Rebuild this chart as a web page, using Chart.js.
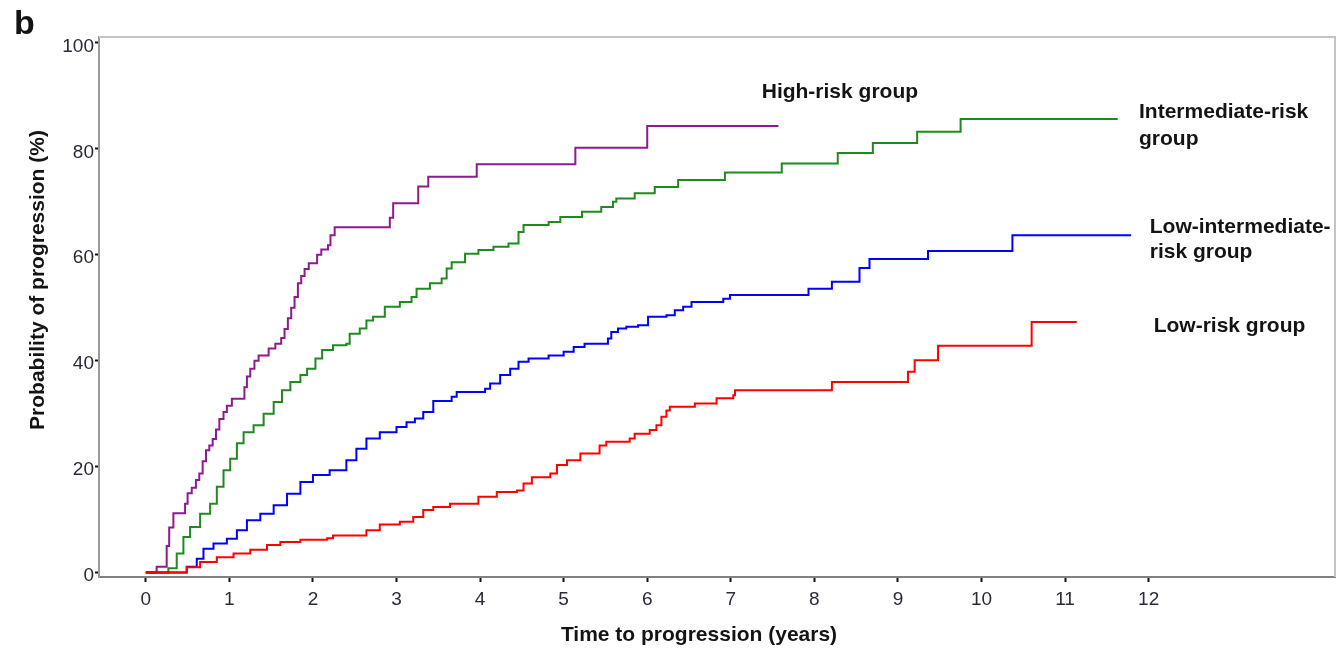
<!DOCTYPE html>
<html>
<head>
<meta charset="utf-8">
<script src="https://cdn.jsdelivr.net/npm/chart.js@4.4.1/dist/chart.umd.min.js"></script>
<style>
  html, body { margin: 0; padding: 0; background: #fff; }
  #wrap { width: 1337px; height: 648px; }
</style>
</head>
<body>
<div id="wrap"><canvas id="kmChart" width="1337" height="648"></canvas></div>
<script>
// Cumulative probability of progression (%) by risk group
const highTime = [0, 0.13, 0.25, 0.28, 0.33, 0.47, 0.50, 0.55, 0.60, 0.64, 0.68, 0.72, 0.76, 0.80, 0.84, 0.88, 0.93, 0.97, 1.03, 1.18, 1.21, 1.25, 1.30, 1.35, 1.47, 1.55, 1.62, 1.66, 1.70, 1.74, 1.78, 1.82, 1.86, 1.90, 1.95, 2.05, 2.10, 2.18, 2.21, 2.26, 2.92, 2.96, 3.26, 3.38, 3.96, 5.14, 6.00, 7.57];
const highProb = [0, 1.1, 5, 8.5, 11.2, 13, 15, 16, 17.5, 18.7, 21, 23.1, 24, 25.2, 27, 29, 30.3, 31.5, 32.8, 35, 37, 38.5, 40, 41, 42.3, 43.2, 44.3, 46, 48, 50, 52, 54.6, 56, 57.3, 58.4, 60, 61, 61.8, 63.7, 65.2, 67, 69.7, 72.9, 74.7, 77.1, 80.2, 84.3, 84.3];

const interTime = [0, 0.17, 0.27, 0.37, 0.45, 0.53, 0.65, 0.77, 0.85, 0.93, 1.01, 1.09, 1.17, 1.29, 1.41, 1.53, 1.63, 1.73, 1.85, 1.93, 2.03, 2.11, 2.24, 2.40, 2.44, 2.56, 2.64, 2.72, 2.86, 3.04, 3.18, 3.24, 3.40, 3.54, 3.60, 3.66, 3.82, 3.98, 4.16, 4.34, 4.46, 4.52, 4.82, 4.96, 5.22, 5.45, 5.59, 5.63, 5.85, 6.09, 6.37, 6.93, 7.61, 8.28, 8.70, 9.23, 9.75, 11.63];
const interProb = [0, 0, 0.8, 3.6, 6.7, 8.6, 11.1, 13, 16.2, 19.3, 21.5, 24.4, 26.5, 27.8, 30, 32.2, 34.4, 36, 37.3, 38.5, 40.4, 42, 42.9, 43.2, 45.1, 46.1, 47.6, 48.3, 50.2, 51.1, 52, 53.6, 54.6, 55.5, 57.4, 58.6, 60.2, 60.9, 61.5, 62.1, 64.3, 65.6, 66.2, 67.1, 68.1, 69, 70, 70.6, 71.6, 72.8, 74.1, 75.5, 77.2, 79.2, 81.1, 83.2, 85.6, 85.6];

const lowInterTime = [0, 0.33, 0.49, 0.61, 0.69, 0.81, 0.97, 1.09, 1.21, 1.37, 1.53, 1.69, 1.85, 2.00, 2.20, 2.40, 2.52, 2.64, 2.80, 3.00, 3.12, 3.22, 3.32, 3.44, 3.66, 3.72, 4.06, 4.12, 4.24, 4.36, 4.46, 4.58, 4.82, 5.00, 5.12, 5.25, 5.53, 5.57, 5.65, 5.75, 5.89, 6.01, 6.23, 6.33, 6.43, 6.53, 6.91, 6.99, 7.93, 8.21, 8.54, 8.66, 9.36, 10.37, 11.79];
const lowInterProb = [0, 0, 1.1, 2.6, 4.5, 5.5, 6.4, 8, 9.9, 11.1, 12.7, 14.9, 17.1, 18.4, 19.3, 21.2, 23.4, 25.3, 26.5, 27.5, 28.4, 29.1, 30.3, 32.4, 33.2, 34.1, 34.7, 35.7, 37.3, 38.5, 39.8, 40.4, 41, 41.7, 42.6, 43.2, 44.2, 45.4, 46.1, 46.4, 46.7, 48.3, 48.6, 49.5, 50.2, 51.1, 51.7, 52.4, 53.6, 54.9, 57.5, 59.2, 60.7, 63.7, 63.7];

const lowTime = [0, 0.33, 0.49, 0.65, 0.85, 1.05, 1.25, 1.45, 1.61, 1.85, 2.17, 2.24, 2.64, 2.80, 3.04, 3.20, 3.32, 3.44, 3.64, 3.98, 4.20, 4.44, 4.52, 4.62, 4.84, 4.92, 5.04, 5.20, 5.43, 5.51, 5.79, 5.85, 6.03, 6.11, 6.17, 6.23, 6.27, 6.57, 6.83, 7.03, 7.05, 8.21, 9.12, 9.20, 9.48, 10.60, 11.14];
const lowProb = [0, 0, 1, 2, 2.9, 3.6, 4.3, 5.2, 5.8, 6.2, 6.5, 7.0, 8, 9.1, 9.6, 10.5, 11.8, 12.4, 13, 14.3, 15.2, 15.5, 16.8, 18, 18.7, 20.3, 21.2, 22.5, 24, 24.7, 25.3, 26.2, 26.9, 27.8, 29.4, 30.6, 31.3, 31.9, 32.9, 33.5, 34.4, 36, 37.9, 40.1, 42.8, 47.3, 47.3];

const xTickValues = [0, 1, 2, 3, 4, 5, 6, 7, 8, 9, 10, 11, 12];
const yTickValues = [0, 20, 40, 60, 80, 100];

// group labels, anchored at (years, %)
const labelText = ['High-risk group', 'Intermediate-risk', 'group', 'Low-intermediate-', 'risk group', 'Low-risk group'];
const labelTime = [7.37, 11.885, 11.885, 12.013, 12.013, 12.06];
const labelProb = [89.65, 85.73, 80.68, 64.01, 59.29, 45.43];

const xTitle = 'Time to progression (years)';
const yTitle = 'Probability of progression (%)';
const panelLetter = 'b';

const FONT = "'Liberation Sans', Arial, sans-serif";

function toPoints(times, probs) {
    return times.map((t, i) => ({ x: t, y: probs[i] }));
}

function curve(label, times, probs, color) {
    return {
        label: label,
        data: toPoints(times, probs),
        borderColor: color,
        backgroundColor: color,
        borderWidth: 2,
        stepped: true,
        fill: false,
        pointRadius: 0,
        pointHoverRadius: 0
    };
}

const decorations = {
    id: 'decorations',
    afterDraw(chart) {
        const { ctx, chartArea: a, scales: { x, y } } = chart;
        ctx.save();

        // light frame on top and right
        ctx.strokeStyle = '#c4c4c4';
        ctx.lineWidth = 2;
        ctx.beginPath();
        ctx.moveTo(a.left, a.top);
        ctx.lineTo(a.right, a.top);
        ctx.lineTo(a.right, a.bottom);
        ctx.stroke();

        ctx.fillStyle = '#141414';
        ctx.textAlign = 'left';
        ctx.textBaseline = 'alphabetic';
        ctx.font = 'bold 21px ' + FONT;
        labelText.forEach((txt, i) => {
            ctx.fillText(txt, x.getPixelForValue(labelTime[i]), y.getPixelForValue(labelProb[i]));
        });

        ctx.font = 'bold 21px ' + FONT;
        ctx.textAlign = 'center';
        ctx.fillText(xTitle, 699, 641);

        ctx.save();
        ctx.translate(43.5, 280);
        ctx.rotate(-Math.PI / 2);
        ctx.fillText(yTitle, 0, 0);
        ctx.restore();

        ctx.textAlign = 'left';
        ctx.font = 'bold 34px ' + FONT;
        ctx.fillText(panelLetter, 14, 34);

        ctx.restore();
    }
};

new Chart(document.getElementById('kmChart'), {
    type: 'line',
    data: {
        datasets: [
            curve('Low-risk group', lowTime, lowProb, '#ff0000'),
            curve('Low-intermediate-risk group', lowInterTime, lowInterProb, '#0000ff'),
            curve('Intermediate-risk group', interTime, interProb, '#1f8a1f'),
            curve('High-risk group', highTime, highProb, '#8e1b8e')
        ]
    },
    options: {
        responsive: false,
        animation: false,
        layout: { padding: { top: 37, right: 2, bottom: 0, left: 0 } },
        plugins: {
            legend: { display: false },
            tooltip: { enabled: false }
        },
        scales: {
            x: {
                type: 'linear',
                min: -0.56,
                max: 14.23,
                afterBuildTicks: (s) => { s.ticks = xTickValues.map(v => ({ value: v })); },
                afterFit: (s) => { s.height = 71; },
                grid: { drawOnChartArea: false, tickLength: 5, tickColor: '#111', tickWidth: 2 },
                border: { color: '#808080', width: 2 },
                ticks: {
                    font: { family: FONT, size: 19 },
                    color: '#2a2a38',
                    padding: 6,
                    maxRotation: 0,
                    autoSkip: false
                }
            },
            y: {
                min: -0.83,
                max: 101.1,
                afterBuildTicks: (s) => { s.ticks = yTickValues.map(v => ({ value: v })); },
                afterFit: (s) => { s.width = 99; },
                grid: { drawOnChartArea: false, tickLength: 4, tickColor: '#111', tickWidth: 2 },
                border: { color: '#9a9a9a', width: 2 },
                ticks: {
                    font: { family: FONT, size: 19 },
                    color: '#2a2a38',
                    padding: 1,
                    labelOffset: 3.5,
                    autoSkip: false
                }
            }
        }
    },
    plugins: [decorations]
});
</script>
</body>
</html>
